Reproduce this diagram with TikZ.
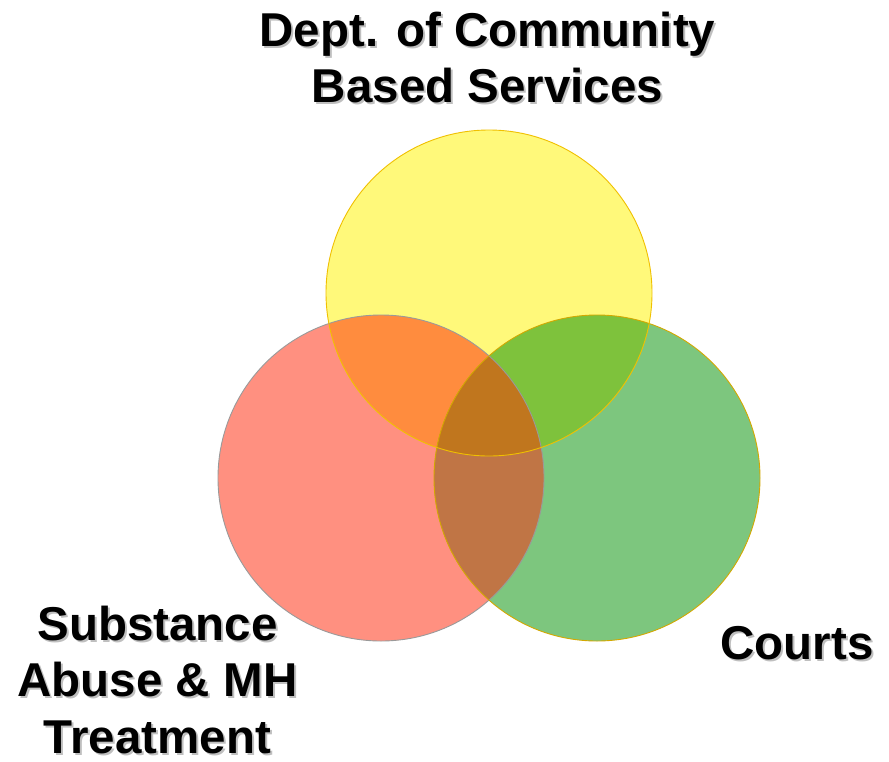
\documentclass[tikz,border=0pt]{standalone}
\usepackage{fontspec}
\setmainfont{Liberation Sans}
\definecolor{cYel}{HTML}{FFF97A}
\definecolor{cRed}{HTML}{FF9080}
\definecolor{cGrn}{HTML}{7DC67E}
\definecolor{cYR}{HTML}{FF8C3E}
\definecolor{cYG}{HTML}{7EC23C}
\definecolor{cRG}{HTML}{C07545}
\definecolor{cAll}{HTML}{C0761E}
\definecolor{eYel}{HTML}{F0C000}
\definecolor{eGrn}{HTML}{D4A800}
\definecolor{eRed}{HTML}{9A9A9A}
\begin{document}
\begin{tikzpicture}[x=1pt,y=-1pt,
  lbl/.style={font=\bfseries\fontsize{47.5}{56.5}\selectfont, align=center, inner sep=0pt},
  shade/.style={lbl, text=black, opacity=0.25}]
\useasboundingbox (0,0) rectangle (889,761);
\fill[white] (0,0) rectangle (889,761);

% circle centres
\coordinate (cy) at (489,293);
\coordinate (cr) at (381,478);
\coordinate (cg) at (597,478);
\def\rad{163pt}

% base discs
\fill[cRed] (cr) circle (\rad);
\fill[cGrn] (cg) circle (\rad);
\fill[cYel] (cy) circle (\rad);

% pairwise overlaps
\begin{scope}\clip (cy) circle (\rad); \fill[cYR] (cr) circle (\rad); \end{scope}
\begin{scope}\clip (cy) circle (\rad); \fill[cYG] (cg) circle (\rad); \end{scope}
\begin{scope}\clip (cr) circle (\rad); \fill[cRG] (cg) circle (\rad); \end{scope}
% centre where all three meet
\begin{scope}\clip (cy) circle (\rad); \clip (cr) circle (\rad); \fill[cAll] (cg) circle (\rad); \end{scope}

% outlines
\draw[eRed, line width=0.9pt] (cr) circle (\rad);
\draw[eGrn, line width=0.9pt] (cg) circle (\rad);
\draw[eYel, line width=0.9pt] (cy) circle (\rad);

% labels with soft drop shadow
\node[shade] (dcbs-s) at (489.5,59.5) {Dept. of Community\\Based Services};
\node[lbl] (dcbs) at (487.5,57.5) {Dept. of Community\\Based Services};

\node[shade] (samh-s) at (159.5,682) {Substance\\Abuse \& MH\\Treatment};
\node[lbl] (samh) at (157.5,680) {Substance\\Abuse \& MH\\Treatment};

\node[shade] (courts-s) at (799,645) {Courts};
\node[lbl] (courts) at (797,643) {Courts};
\end{tikzpicture}
\end{document}
